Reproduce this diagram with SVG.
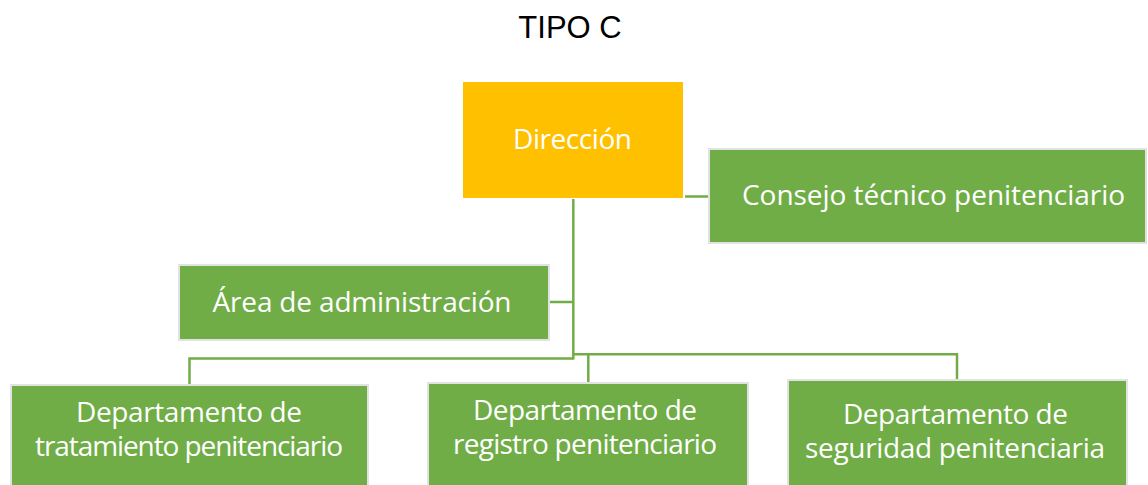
<svg xmlns="http://www.w3.org/2000/svg" width="1148" height="485" viewBox="0 0 1148 485">
  <style>
    .box { fill: #70AD47; stroke: #E2E2E2; stroke-width: 2; }
    .top { fill: #FFC000; }
    .lbl { font-family: "Open Sans", "Noto Sans", sans-serif; font-size: 28px; fill: #FFFFFF; text-anchor: middle; }
    .title { font-family: "Liberation Sans", Arial, sans-serif; font-size: 31px; fill: #000000; text-anchor: middle; }
    .conn { fill: none; stroke: #70AD47; stroke-width: 2.5; }
  </style>
  <rect width="1148" height="485" fill="#FFFFFF"/>
  <text class="title" x="570" y="38">TIPO C</text>

  <g id="connectors">
    <path class="conn" d="M573.3,199 V359.5"/>
    <path class="conn" d="M685,196.5 H708"/>
    <path class="conn" d="M550,302 H573.3"/>
    <path class="conn" d="M573.3,358.5 H189.5 V384"/>
    <path class="conn" d="M573.3,354.3 H957 V379"/>
    <path class="conn" d="M588.3,354.3 V382"/>
  </g>

  <g id="direccion">
    <rect class="top" x="463" y="82" width="220" height="116"/>
    <text class="lbl" x="572.5" y="149" textLength="119">Dirección</text>
  </g>

  <g id="consejo">
    <rect class="box" x="709" y="149" width="437" height="94"/>
    <text class="lbl" x="933.5" y="205" textLength="383">Consejo técnico penitenciario</text>
  </g>

  <g id="area-administracion">
    <rect class="box" x="179" y="265" width="370" height="75"/>
    <text class="lbl" x="362" y="312" textLength="299">Área de administración</text>
  </g>

  <g id="depto-tratamiento">
    <rect class="box" x="11" y="385" width="357" height="102"/>
    <text class="lbl"><tspan x="189" y="422" textLength="226">Departamento de</tspan><tspan x="189" y="456" textLength="308">tratamiento penitenciario</tspan></text>
  </g>

  <g id="depto-registro">
    <rect class="box" x="428" y="383" width="320" height="104"/>
    <text class="lbl"><tspan x="585" y="420" textLength="224">Departamento de</tspan><tspan x="585" y="454" textLength="264">registro penitenciario</tspan></text>
  </g>

  <g id="depto-seguridad">
    <rect class="box" x="788" y="380" width="339" height="107"/>
    <text class="lbl"><tspan x="955.5" y="424" textLength="225">Departamento de</tspan><tspan x="955" y="458" textLength="300">seguridad penitenciaria</tspan></text>
  </g>
</svg>
